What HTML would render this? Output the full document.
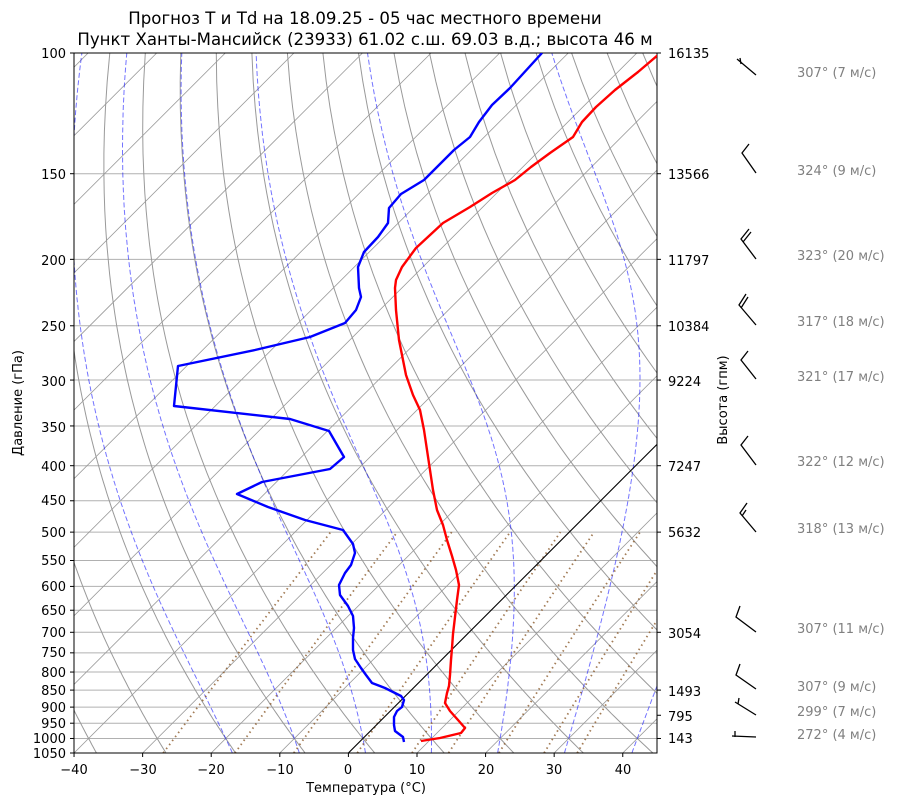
<!DOCTYPE html>
<html><head><meta charset="utf-8">
<style>
html,body{margin:0;padding:0;background:#fff;}
svg{display:block;font-family:"DejaVu Sans","Liberation Sans",sans-serif;}
</style></head>
<body>
<svg id="s" width="900" height="806" viewBox="0 0 900 806" xmlns="http://www.w3.org/2000/svg">
<defs><clipPath id="c"><rect x="74" y="53" width="583" height="700"/></clipPath></defs>
<rect width="900" height="806" fill="#fff"/>
<g id="grid" clip-path="url(#c)"></g>
<g id="ticks"></g>
<rect x="74" y="53" width="583" height="700" fill="none" stroke="#000" stroke-width="1"/>
<text x="365" y="24" font-size="16.6" text-anchor="middle">Прогноз T и Td на 18.09.25 - 05 час местного времени</text>
<text x="365" y="45" font-size="16.6" text-anchor="middle">Пункт Ханты-Мансийск (23933) 61.02 с.ш. 69.03 в.д.; высота 46 м</text>
<text x="366" y="792" font-size="13" text-anchor="middle">Температура (°C)</text>
<text transform="translate(22,403) rotate(-90)" font-size="13" text-anchor="middle">Давление (гПа)</text>
<text transform="translate(727,400) rotate(-90)" font-size="13" text-anchor="middle">Высота (гпм)</text>
<g font-size="13" fill="#000">
<text x="668" y="58">16135</text>
<text x="668" y="179">13566</text>
<text x="668" y="265">11797</text>
<text x="668" y="331">10384</text>
<text x="668" y="386">9224</text>
<text x="668" y="471">7247</text>
<text x="668" y="537">5632</text>
<text x="668" y="638">3054</text>
<text x="668" y="696">1493</text>
<text x="668" y="721">795</text>
<text x="668" y="743">143</text>
</g>
<g font-size="13" fill="#000" text-anchor="end">
<text x="66" y="58">100</text><text x="66" y="179">150</text><text x="66" y="265">200</text>
<text x="66" y="331">250</text><text x="66" y="386">300</text><text x="66" y="432">350</text>
<text x="66" y="471">400</text><text x="66" y="505">450</text><text x="66" y="537">500</text>
<text x="66" y="565">550</text><text x="66" y="591">600</text><text x="66" y="615">650</text>
<text x="66" y="637">700</text><text x="66" y="657">750</text><text x="66" y="677">800</text>
<text x="66" y="695">850</text><text x="66" y="712">900</text><text x="66" y="728">950</text>
<text x="66" y="743">1000</text><text x="66" y="758">1050</text>
</g>
<g font-size="13" fill="#000" text-anchor="middle">
<text x="74" y="774">−40</text><text x="143" y="774">−30</text><text x="211" y="774">−20</text>
<text x="280" y="774">−10</text><text x="348" y="774">0</text><text x="417" y="774">10</text>
<text x="486" y="774">20</text><text x="554" y="774">30</text><text x="623" y="774">40</text>
</g>
<g clip-path="url(#c)" fill="none" stroke-width="2.4" stroke-linejoin="round">
<polyline stroke="#ff0000" points="421,741 440,738 461,733 465,728 458,720 450,711 445,703 447,693 449,686 450,675 451,660 452,648 453,634 455,617 457,600 459,585 456,570 452,556 447,540 443,525 437,510 433,490 430,470 427,450 424,430 420,410 413,395 406,375 402,355 399,340 396,310 395,288 396,280 402,267 416,248 443,223 470,207 492,193 515,180 531,167 550,153 573,137 582,122 596,107 615,90 638,72 658,55"/>
<polyline stroke="#0000ff" points="404,742 403,737 395,731 394,725 394,717 397,711 402,707 404,700 401,696 395,693 385,688 372,683 366,675 361,668 355,659 353,650 353,638 354,628 353,616 348,606 340,595 339,585 345,573 351,565 355,553 353,544 343,530 305,520 268,507 237,494 262,482 330,469 344,457 329,431 290,419 174,406 178,366 255,350 310,337 345,323 356,310 361,297 359,288 358,267 364,252 378,237 388,223 389,208 401,194 424,180 454,150 470,137 479,122 492,105 510,88 542,53"/>
</g>
<g stroke="#000" stroke-width="1.3" fill="none">
<polyline points="756,75 737,59"/><line x1="740" y1="58" x2="741" y2="64"/>
<polyline points="756,173 742,153 749,144"/>
<polyline points="756,259 741,239 749,229"/><line x1="743" y1="242" x2="751" y2="232"/>
<polyline points="756,325 739,305 746,294"/><line x1="741" y1="308" x2="748" y2="297"/>
<polyline points="756,379 741,360 748,351"/>
<polyline points="756,465 741,445 748,436"/>
<polyline points="756,532 740,513 747,503"/><line x1="742" y1="516" x2="746" y2="510"/>
<polyline points="756,632 736,617 740,606"/>
<polyline points="756,689 736,675 740,664"/>
<polyline points="756,715 735,702"/><line x1="738" y1="704" x2="739" y2="698"/>
<polyline points="756,737 732,736"/><line x1="735" y1="737" x2="735" y2="731"/>
</g>
<g font-size="13" fill="#808080">
<text x="797" y="77">307° (7 м/с)</text>
<text x="797" y="175">324° (9 м/с)</text>
<text x="797" y="260">323° (20 м/с)</text>
<text x="797" y="326">317° (18 м/с)</text>
<text x="797" y="381">321° (17 м/с)</text>
<text x="797" y="466">322° (12 м/с)</text>
<text x="797" y="533">318° (13 м/с)</text>
<text x="797" y="633">307° (11 м/с)</text>
<text x="797" y="691">307° (9 м/с)</text>
<text x="797" y="716">299° (7 м/с)</text>
<text x="797" y="739">272° (4 м/с)</text>
</g>
</svg>
<script>
(function(){
var NS="http://www.w3.org/2000/svg";
function Y(p){return 53+297.7*Math.log(p/100);}
function X(T,p){return 348.4+6.859*T+(753-Y(p));}
function el(g,tag,a){var e=document.createElementNS(NS,tag);for(var k in a)e.setAttribute(k,a[k]);g.appendChild(e);return e;}
var g=document.getElementById('grid'), tk=document.getElementById('ticks');
var ps=[100,150,200,250,300,350,400,450,500,550,600,650,700,750,800,850,900,950,1000,1050];
ps.forEach(function(p){var y=Y(p);el(g,'line',{x1:74,x2:657,y1:y,y2:y,stroke:'#b0b0b0','stroke-width':1});
 el(tk,'line',{x1:70,x2:74,y1:y,y2:y,stroke:'#000'});});
[100,150,200,250,300,400,500,700,850,925,1000].forEach(function(p){var y=Y(p);el(tk,'line',{x1:657,x2:661,y1:y,y2:y,stroke:'#000'});});
for(var t=-40;t<=40;t+=10){var x=348.4+6.859*t;el(tk,'line',{x1:x,x2:x,y1:753,y2:757,stroke:'#000'});}
for(var T=-140;T<=50;T+=10){el(g,'line',{x1:X(T,1050),y1:Y(1050),x2:X(T,100),y2:Y(100),stroke:'#999','stroke-width':0.8});}
for(var t0=-40;t0<=200;t0+=10){var th=t0+273.15,pts=[];for(var p=1050;p>=100;p-=10){var T=th*Math.pow(p/1000,0.2857)-273.15;pts.push(X(T,p).toFixed(1)+','+Y(p).toFixed(1));}
 el(g,'polyline',{points:pts.join(' '),fill:'none',stroke:'#999','stroke-width':1});}
function es(T){return 6.112*Math.exp(17.67*T/(T+243.5));}
function dTdp(T,p){var Tk=T+273.15,e=es(T),rs=0.622*e/(p-e);return (287.04*Tk+2.501e6*rs)/(1005.7+2.501e6*2.501e6*rs*0.622/(287.04*Tk*Tk))/p;}
for(var t0=-20;t0<=50;t0+=10){var T=t0,p=1000,up=[],dn=[];var h=-2;
 up.push([T,p]);while(p>100){var k1=dTdp(T,p),k2=dTdp(T+h/2*k1,p+h/2),k3=dTdp(T+h/2*k2,p+h/2),k4=dTdp(T+h*k3,p+h);T+=h/6*(k1+2*k2+2*k3+k4);p+=h;up.push([T,p]);}
 T=t0;p=1000;h=2;while(p<1050){var k1=dTdp(T,p),k2=dTdp(T+h/2*k1,p+h/2),k3=dTdp(T+h/2*k2,p+h/2),k4=dTdp(T+h*k3,p+h);T+=h/6*(k1+2*k2+2*k3+k4);p+=h;dn.unshift([T,p]);}
 var all=dn.concat(up).map(function(a){return X(a[0],a[1]).toFixed(1)+','+Y(a[1]).toFixed(1);});
 el(g,'polyline',{points:all.join(' '),fill:'none',stroke:'#0000ff','stroke-opacity':0.55,'stroke-width':1,'stroke-dasharray':'5,2.5'});}
[0.0004,0.001,0.002,0.004,0.007,0.01,0.016,0.024,0.032].forEach(function(w){var pts=[];for(var p=1050;p>=500;p-=10){var e=w*p/(0.622+w),l=Math.log(e/6.112),T=243.5*l/(17.67-l);pts.push(X(T,p).toFixed(1)+','+Y(p).toFixed(1));}
 el(g,'polyline',{points:pts.join(' '),fill:'none',stroke:'#8b5a2b','stroke-width':1.8,'stroke-dasharray':'1.5,3.5','stroke-opacity':0.8});});
el(g,'line',{x1:X(0,1050),y1:Y(1050),x2:X(0,100),y2:Y(100),stroke:'#000','stroke-width':1.1});
})();
</script>
</body></html>
